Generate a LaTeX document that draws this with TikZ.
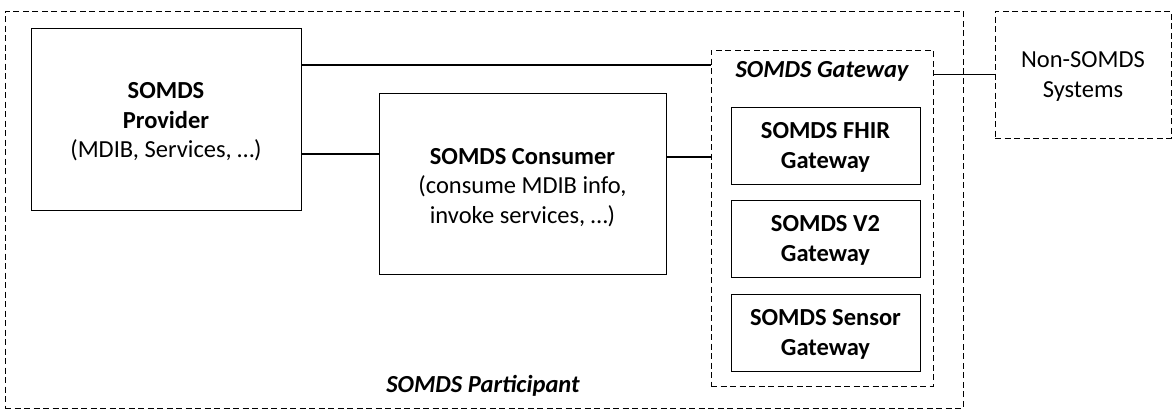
\documentclass[tikz,border=0pt]{standalone}
\usepackage{fontspec}
\setmainfont{Carlito}
\begin{document}
\begin{tikzpicture}[x=1pt,y=-1pt,
  txt/.style={font=\fontsize{24.5}{29.5}\selectfont, align=center, inner sep=0pt},
  solidbox/.style={draw=black, line width=1pt, inner sep=0pt},
  dashbox/.style={draw=black, line width=1pt, dash pattern=on 6pt off 3.5pt, inner sep=0pt},
  conn/.style={draw=black, line width=1.6pt}]
\useasboundingbox[fill=white] (0,0) rectangle (1176,418);
% containers
\node[dashbox, minimum width=958pt, minimum height=397pt] (part) at (484,209.5) {};
\node[dashbox, minimum width=222pt, minimum height=336pt] (gw) at (822,218) {};
\node[dashbox, minimum width=176pt, minimum height=127pt] (non) at (1083,74.5) {};
\node[txt] (nont) at ([yshift=-2pt]non.center) {Non-SOMDS\\Systems};
% boxes
\node[solidbox, minimum width=270pt, minimum height=182pt] (prov) at (166,119) {};
\node[txt] (provt) at ([yshift=-3pt]prov.center) {\textbf{SOMDS}\\\textbf{Provider}\\(MDIB, Services, …)};
\node[solidbox, minimum width=287pt, minimum height=181pt] (cons) at (522.5,183.5) {};
\node[txt] (const) at ([yshift=-4pt]cons.center) {\textbf{SOMDS Consumer}\\(consume MDIB info,\\invoke services, …)};
\node[solidbox, minimum width=189pt, minimum height=77pt] (fhir) at (825.5,145.5) {};
\node[txt] (fhirt) at ([yshift=-2pt]fhir.center) {\textbf{SOMDS FHIR}\\\textbf{Gateway}};
\node[solidbox, minimum width=189pt, minimum height=77pt] (v2) at (825.5,238.5) {};
\node[txt] (v2t) at ([yshift=-2pt]v2.center) {\textbf{SOMDS V2}\\\textbf{Gateway}};
\node[solidbox, minimum width=189pt, minimum height=77pt] (sens) at (825.5,332.5) {};
\node[txt] (senst) at ([yshift=-2pt]sens.center) {\textbf{SOMDS Sensor}\\\textbf{Gateway}};
% labels
\node[txt, font=\fontsize{24.5}{29.5}\selectfont\bfseries\itshape] (gwlbl) at (822,71) {SOMDS Gateway};
\node[txt, font=\fontsize{24.5}{29.5}\selectfont\bfseries\itshape] (partlbl) at (483,386) {SOMDS Participant};
% connectors
\draw[conn] ([yshift=54pt]prov.east) coordinate (a1) -- (a1 -| gw.west);
\draw[conn] ([yshift=-35pt]prov.east) coordinate (a2) -- (a2 -| cons.west);
\draw[conn] ([yshift=26.5pt]cons.east) coordinate (a3) -- (a3 -| gw.west);
\draw[conn] (non.west -| gw.east) -- (non.west);
\end{tikzpicture}
\end{document}
